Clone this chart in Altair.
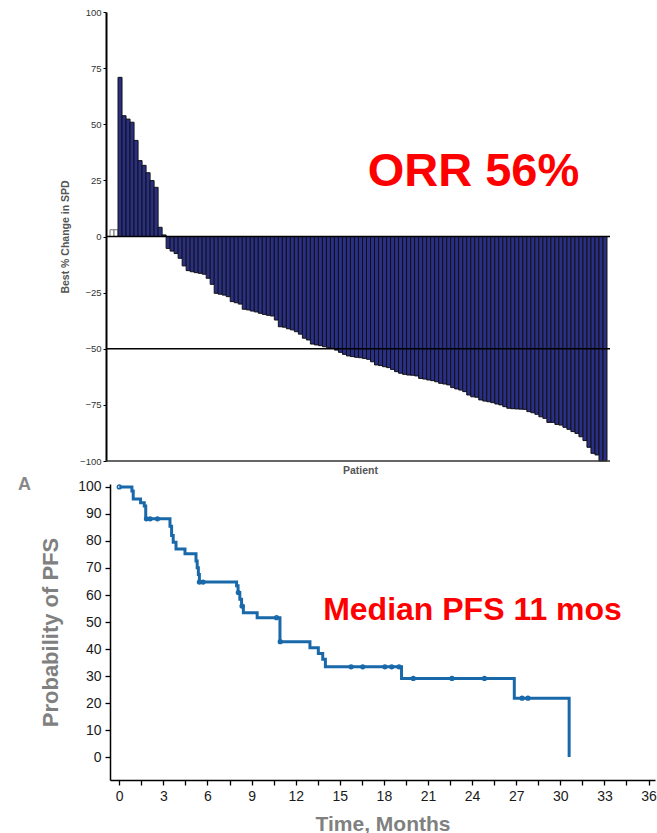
import altair as alt
import pandas as pd

# ---------------- Waterfall (best % change in SPD) ----------------
open_bar_values = [3.0, 3.0]
filled_bar_values = [
    70.9, 53.8, 52.3, 50.9, 42.8, 33.8, 31.7, 28.4, 24.9, 21.9, 4.1, 0.7,
    -5.3, -6.5, -7.6, -9.7, -13.1, -15.2, -15.7, -16.1, -16.4, -16.8, -18.6,
    -21.3, -25.3, -25.7, -26.1, -26.8, -29.0, -29.5, -30.1, -32.4, -32.7, -33.2, -33.6,
    -34.2, -34.7, -35.1, -35.4, -37.2, -40.2, -40.4, -41.1, -41.6, -42.4, -43.5, -45.3,
    -46.1, -47.9, -48.3, -48.6, -49.1, -49.4, -49.8, -50.6, -51.6, -52.5, -53.2, -53.5,
    -53.8, -54.0, -54.3, -54.7, -55.8, -57.2, -57.5, -58.0, -58.4, -59.2, -60.2,
    -60.9, -61.4, -61.7, -61.8, -62.1, -63.2, -63.5, -63.9, -64.2, -64.7, -65.4, -65.7,
    -66.1, -67.3, -67.9, -68.4, -69.1, -70.6, -71.4, -71.6, -72.8, -73.3, -73.6, -74.0, -74.6,
    -75.0, -75.8, -76.5, -76.7, -76.8, -76.9, -77.0, -78.0, -78.5, -79.2, -80.3, -81.0,
    -82.8, -82.8, -83.7, -84.0, -85.0, -85.9, -86.9, -87.7, -89.2, -90.9, -93.9, -96.6,
    -97.3, -100.0, -100.0,
]
top_y_ticks = [-100, -75, -50, -25, 0, 25, 50, 75, 100]
reference_lines = [0, -50]

# ---------------- Kaplan-Meier PFS ----------------
km_times = [0, 0.86, 0.95, 1.45, 1.7, 1.8, 3.45, 3.56, 3.67, 3.86, 4.47, 5.22, 5.3, 5.38, 5.45,
            7.98, 8.08, 8.2, 8.32, 8.44, 9.38, 10.93, 12.97, 13.54, 13.84, 14.02, 19.2, 26.87, 30.6]
km_surv = [100, 98.5, 95.5, 94.2, 93.0, 88.2, 85.5, 82.0, 79.5, 77.0, 75.3, 72.6, 70.1, 67.6, 64.8,
           63.4, 60.9, 58.4, 55.9, 53.4, 51.6, 42.7, 40.5, 38.3, 36.2, 33.4, 29.1, 21.8, 0]
censor_times = [0, 1.85, 2.1, 2.6, 5.45, 5.7, 8.1, 8.35, 10.7, 10.95, 15.77, 16.56, 18.07, 18.53,
                19.03, 20.0, 22.63, 24.84, 27.4, 27.8]
censor_surv = [100, 88.2, 88.2, 88.2, 64.8, 64.8, 60.9, 55.9, 51.6, 42.7, 33.4, 33.4, 33.4, 33.4,
               33.4, 29.1, 29.1, 29.1, 21.8, 21.8]
km_y_ticks = [0, 10, 20, 30, 40, 50, 60, 70, 80, 90, 100]
km_x_ticks = [0, 1.5, 3, 4.5, 6, 7.5, 9, 10.5, 12, 13.5, 15, 16.5, 18, 19.5, 21, 22.5, 24, 25.5,
              27, 28.5, 30, 31.5, 33, 34.5, 36]

FONT = "Liberation Sans"
NAVY = "#2a2f86"
BLUE = "#1969aa"
GRAY_TITLE = "#808080"

all_values = open_bar_values + filled_bar_values
bar_df = pd.DataFrame({
    "patient": list(range(1, len(all_values) + 1)),
    "change": all_values,
    "kind": ["open"] * len(open_bar_values) + ["filled"] * len(filled_bar_values),
})

top_y_scale = alt.Scale(domain=[-100, 100], nice=False)
top_y_axis = alt.Axis(values=top_y_ticks, offset=4, grid=False, domainColor="black",
                      domainWidth=2, tickColor="black", tickSize=3, labelFontSize=9.5,
                      labelColor="#333333", labelPadding=2, labelFont=FONT,
                      labelOverlap=False,
                      title="Best % Change in SPD", titleFontSize=10.5, titleFontWeight="bold",
                      titleColor="#555555", titlePadding=9, titleFont=FONT)

bars = alt.Chart(bar_df).mark_bar(strokeWidth=1).encode(
    x=alt.X("patient:O", sort=None,
            scale=alt.Scale(paddingInner=0, paddingOuter=0.375, align=0),
            axis=alt.Axis(labels=False, ticks=False, domain=False, title="Patient",
                          titleFontSize=10.5, titleFontWeight="bold", titleColor="#555555",
                          titlePadding=4, titleFont=FONT)),
    y=alt.Y("change:Q", scale=top_y_scale, axis=top_y_axis),
    fill=alt.Fill("kind:N", scale=alt.Scale(domain=["open", "filled"], range=["#ffffff", NAVY]),
                  legend=None),
    stroke=alt.Stroke("kind:N", scale=alt.Scale(domain=["open", "filled"], range=["#777777", "#111111"]),
                      legend=None),
)

rules = alt.Chart(pd.DataFrame({"y": reference_lines})).mark_rule(color="black", strokeWidth=1.5).encode(
    y=alt.Y("y:Q", scale=top_y_scale, axis=top_y_axis), x=alt.value(-4), x2=alt.value(500))
base_line = alt.Chart(pd.DataFrame({"y": [-100]})).mark_rule(color="#333333", strokeWidth=1.5).encode(
    y=alt.Y("y:Q", scale=top_y_scale, axis=top_y_axis), x=alt.value(-4), x2=alt.value(500))
orr = alt.Chart(pd.DataFrame({"t": ["ORR 56%"]})).mark_text(
    fontSize=47, fontWeight="bold", color="#ff0000", font=FONT, align="center", baseline="alphabetic"
).encode(text="t:N", x=alt.value(363.5), y=alt.value(174))

top = alt.layer(bars, rules, base_line, orr).properties(width=500, height=449)

km_df = pd.DataFrame({"time": km_times, "surv": km_surv})
cens_df = pd.DataFrame({"time": censor_times, "surv": censor_surv})

xs = alt.Scale(domain=[-0.63, 36.44], nice=False, zero=False)
ys = alt.Scale(domain=[-8.5, 101.1], nice=False, zero=False)
km_x_axis = alt.Axis(values=km_x_ticks, labelExpr="datum.value % 3 === 0 ? datum.label : ''",
                     grid=False, tickSize=5, tickColor="black", tickWidth=1.3,
                     domainColor="black", domainWidth=1.5, labelFontSize=14,
                     labelColor="#1a1a1a", labelPadding=4, labelFlush=False,
                     labelOverlap=False, labelFont=FONT,
                     title="Time, Months", titleFontSize=21, titleFontWeight="bold",
                     titleColor=GRAY_TITLE, titlePadding=10, titleFont=FONT)
km_y_axis = alt.Axis(values=km_y_ticks, grid=False, tickSize=5, tickColor="black",
                     tickWidth=1.3, domainColor="black", domainWidth=1.5, labelFontSize=14,
                     labelColor="#1a1a1a", labelPadding=4, labelFont=FONT,
                     labelOverlap=False, labelFlush=False,
                     title="Probability of PFS", titleFontSize=22, titleFontWeight="bold",
                     titleColor=GRAY_TITLE, titlePadding=15, titleFont=FONT)

line = alt.Chart(km_df).mark_line(interpolate="step-after", color=BLUE, strokeWidth=3).encode(
    x=alt.X("time:Q", scale=xs, axis=km_x_axis),
    y=alt.Y("surv:Q", scale=ys, axis=km_y_axis),
)
censors = alt.Chart(cens_df).mark_point(shape="circle", size=14, filled=False, color=BLUE,
                                         strokeWidth=1.5, opacity=1).encode(
    x=alt.X("time:Q", scale=xs, axis=km_x_axis), y=alt.Y("surv:Q", scale=ys, axis=km_y_axis))

median = alt.Chart(pd.DataFrame({"t": ["Median PFS 11 mos"]})).mark_text(
    fontSize=32, fontWeight="bold", color="#ff0000", font=FONT, align="center", baseline="alphabetic"
).encode(text="t:N", x=alt.value(362.5), y=alt.value(136))
panel_a = alt.Chart(pd.DataFrame({"t": ["A"]})).mark_text(
    fontSize=18, fontWeight="bold", color="#888888", font=FONT, align="left", baseline="alphabetic"
).encode(text="t:N", x=alt.value(-92), y=alt.value(6))

bottom = alt.layer(line, censors, median, panel_a).properties(width=545, height=296)

chart = alt.vconcat(top, bottom, spacing=23, bounds="flush").properties(
    padding={"left": 18, "top": 7, "right": 0, "bottom": 0}
).configure(font=FONT).configure_view(strokeWidth=0, stroke="transparent")

chart.save("out.html", embed_options={"renderer": "svg", "actions": False})
